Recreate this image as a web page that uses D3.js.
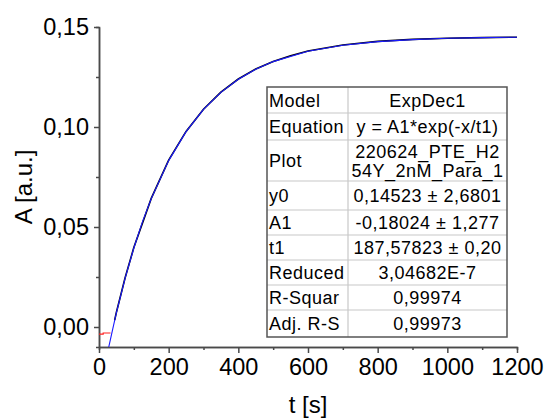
<!DOCTYPE html>
<meta charset="utf-8">
<script src="https://d3js.org/d3.v7.min.js"></script>
<style>
  body { margin: 0; background: #fff; }
  text { font-family: "Liberation Sans", Arial, sans-serif; }
</style>
<body>
<div id="my_dataviz"></div>
<script>

// tick values
var xTicks = [0, 200, 400, 600, 800, 1000, 1200];
var xMinor = [100, 300, 500, 700, 900, 1100];
var yTicks = [0, 0.05, 0.10, 0.15];
var yMinor = [0.025, 0.075, 0.125];

// red baseline before start (t, A)
var baseT = [0, 12, 12, 33];
var baseA = [-0.0036, -0.0036, -0.0030, -0.0030];

// measured trace (black)
var dataT = [45, 50, 75, 100, 150, 200, 250, 300, 350, 400, 450, 500, 550, 600, 700, 800, 900, 1000, 1100, 1200];
var dataA = [0.0034, 0.0074, 0.0246, 0.0397, 0.0643, 0.0834, 0.0978, 0.1089, 0.1174, 0.1240, 0.1290, 0.1328, 0.1356, 0.1380, 0.1410, 0.1428, 0.1438, 0.1444, 0.1447, 0.1449];

// fit curve (blue)
var fitT = [28, 30, 40, 50, 75, 100, 125, 150, 200, 250, 300, 350, 400, 450, 500, 600, 700, 800, 900, 1000, 1100, 1200];
var fitA = [-0.0100, -0.0084, -0.0006, 0.0072, 0.0244, 0.0395, 0.0527, 0.0642, 0.0832, 0.0977, 0.1088, 0.1173, 0.1239, 0.1289, 0.1327, 0.1379, 0.1409, 0.1427, 0.1437, 0.1444, 0.1447, 0.1449];

// fit table
var tableKeys = ["Model", "Equation", "Plot", "y0", "A1", "t1", "Reduced", "R-Squar", "Adj. R-S"];
var tableVals = [["ExpDec1"], ["y = A1*exp(-x/t1)"], ["220624_PTE_H2", "54Y_2nM_Para_1"],
  ["0,14523 \u00b1 2,6801"], ["-0,18024 \u00b1 1,277"], ["187,57823 \u00b1 0,20"],
  ["3,04682E-7"], ["0,99974"], ["0,99973"]];

var W = 547, H = 419;
var margin = {top: 27, right: 30, bottom: 72, left: 99};
var width = W - margin.left - margin.right,
    height = H - margin.top - margin.bottom;

var svg = d3.select("#my_dataviz")
  .append("svg")
  .attr("width", W)
  .attr("height", H)
  .append("g")
  .attr("transform", "translate(" + margin.left + "," + margin.top + ")");

var x = d3.scaleLinear().domain([0, 1200]).range([0, width]);
var y = d3.scaleLinear().domain([-0.01, 0.15]).range([height, 0]);

var fmtY = function(d) { return d3.format(".2f")(d).replace(".", ","); };

// minor ticks
svg.append("g").attr("class", "ax")
  .attr("transform", "translate(0," + height + ")")
  .call(d3.axisBottom(x).tickValues(xMinor).tickSize(3).tickFormat(""));
svg.append("g").attr("class", "ax")
  .call(d3.axisLeft(y).tickValues(yMinor).tickSize(3).tickFormat(""));

// major axes
svg.append("g").attr("class", "ax")
  .attr("transform", "translate(0," + height + ")")
  .call(d3.axisBottom(x).tickValues(xTicks).tickFormat(d3.format("d")).tickSize(6).tickPadding(5).tickSizeOuter(0));
svg.append("g").attr("class", "ax")
  .call(d3.axisLeft(y).tickValues(yTicks).tickFormat(fmtY).tickSize(5).tickPadding(5).tickSizeOuter(0));

svg.selectAll(".ax path, .ax line").attr("stroke", "#4a4a4a").attr("stroke-width", 1.5);
svg.selectAll(".ax text").attr("font-size", "23.5px").attr("fill", "#000")
  .attr("font-family", "'Liberation Sans', Arial, sans-serif");

// axis titles
svg.append("text")
  .attr("x", width / 2).attr("y", height + 66)
  .attr("text-anchor", "middle").attr("font-size", "24px")
  .text("t [s]");
svg.append("text")
  .attr("transform", "translate(" + (32 - margin.left) + "," + (height / 2) + ") rotate(-90)")
  .attr("text-anchor", "middle").attr("font-size", "24px")
  .text("A [a.u.]");

// lines
var line = d3.line().x(function(d) { return x(d[0]); }).y(function(d) { return y(d[1]); });
var plot = svg.append("g");

plot.append("path")
  .datum(baseT.map(function(t, i) { return [t, baseA[i]]; }))
  .attr("d", line).attr("fill", "none").attr("stroke", "#ff2020").attr("stroke-width", 1.2);

plot.append("path")
  .datum(dataT.map(function(t, i) { return [t, dataA[i]]; }))
  .attr("d", line).attr("fill", "none").attr("stroke", "#000").attr("stroke-width", 1.6);

plot.append("path")
  .datum(fitT.map(function(t, i) { return [t, fitA[i]]; }))
  .attr("d", line).attr("fill", "none").attr("stroke", "#1a1aff").attr("stroke-width", 1.1);

// table
var rowEdges = [0, 26, 53, 94, 123, 148, 173, 198, 223, 250];
var tx = 267 - margin.left, ty = 87 - margin.top;
var colSplit = 81, tw = 240;
var tbl = svg.append("g").attr("transform", "translate(" + tx + "," + ty + ")");

tbl.append("rect").attr("width", tw).attr("height", rowEdges[rowEdges.length - 1])
  .attr("fill", "#fff");

tbl.selectAll(".hl").data(rowEdges.slice(1, -1)).enter().append("line")
  .attr("x1", 0).attr("x2", tw).attr("y1", function(d) { return d; }).attr("y2", function(d) { return d; })
  .attr("stroke", "#c8c8c8").attr("stroke-width", 1.2);
tbl.append("line").attr("x1", colSplit).attr("x2", colSplit)
  .attr("y1", 0).attr("y2", rowEdges[rowEdges.length - 1])
  .attr("stroke", "#c8c8c8").attr("stroke-width", 1.2);
tbl.append("rect").attr("width", tw).attr("height", rowEdges[rowEdges.length - 1])
  .attr("fill", "none").attr("stroke", "#555").attr("stroke-width", 1.5);

tableKeys.forEach(function(k, i) {
  var top = rowEdges[i], bot = rowEdges[i + 1], mid = (top + bot) / 2;
  tbl.append("text").attr("x", 2).attr("y", mid + 6.5)
    .attr("font-size", "18px").attr("letter-spacing", "0.5px").text(k);
  var vals = tableVals[i];
  vals.forEach(function(v, j) {
    var yy = mid + 6.5 + (j - (vals.length - 1) / 2) * 19;
    tbl.append("text").attr("x", (colSplit + tw) / 2).attr("y", yy)
      .attr("text-anchor", "middle").attr("font-size", "18px").attr("letter-spacing", "0.5px").text(v);
  });
});

</script>
</body>
